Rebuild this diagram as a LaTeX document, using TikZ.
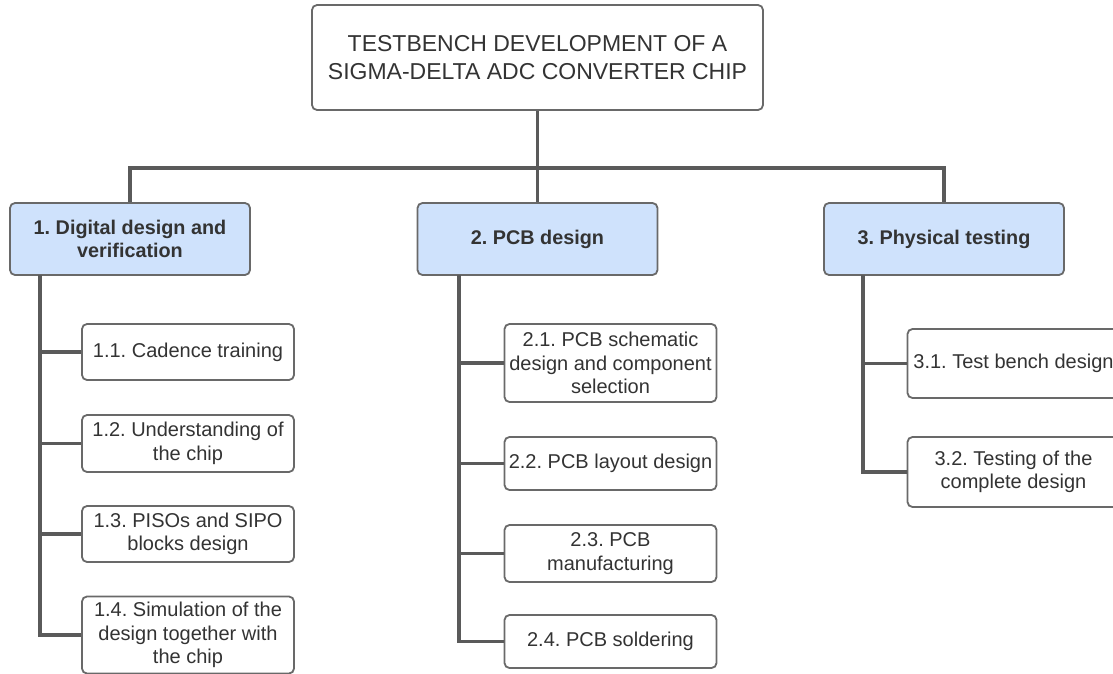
\documentclass[tikz,border=0pt]{standalone}
\usepackage{fontspec}
\setmainfont{Liberation Sans}
\usepackage{tikz}
\definecolor{phaseblue}{RGB}{207,226,252}
\definecolor{linegray}{RGB}{90,90,90}
\definecolor{boxgray}{RGB}{105,105,105}
\definecolor{textgray}{RGB}{51,51,51}
\frenchspacing

\begin{document}
\begin{tikzpicture}[x=1pt,y=-1pt,
		box/.style={draw=boxgray,line width=1.8pt,rounded corners=5pt,fill=white,text=textgray,align=center,inner sep=0pt},
		topbox/.style={box,minimum width=451pt,minimum height=105pt,font=\fontsize{23}{28}\selectfont},
		phasebox/.style={box,fill=phaseblue,minimum width=240pt,minimum height=72pt,font=\fontsize{19.8}{22.5}\selectfont\bfseries},
		taskbox/.style={box,minimum width=212pt,font=\fontsize{20}{23.5}\selectfont},
		link/.style={draw=linegray,line width=3.5pt}]
			\fill [white] (0,0) rectangle (1113,674);
			\useasboundingbox (0,0) rectangle (1113,674);
			\node[topbox] (top) at (537.5,57.5) {TESTBENCH DEVELOPMENT OF A\\SIGMA-DELTA ADC CONVERTER CHIP};
			\node[phasebox] (l1) at (130,239) {1. Digital design and\\verification};
			\node[phasebox] (l2) at (537.5,239) {2. PCB design};
			\node[phasebox] (l3) at (944,239) {3. Physical testing};
			\node[taskbox,minimum height=56pt] (a11) at (188,352) {1.1. Cadence training};
			\node[taskbox,minimum height=57pt] (a12) at (188,443.5) {1.2. Understanding of\\the chip};
			\node[taskbox,minimum height=56pt] (a13) at (188,534) {1.3. PISOs and SIPO\\blocks design};
			\node[taskbox,minimum height=77pt] (a14) at (188,635) {1.4. Simulation of the\\design together with\\the chip};
			\node[taskbox,minimum height=78pt] (a21) at (610.5,363) {2.1. PCB schematic\\design and component\\selection};
			\node[taskbox,minimum height=53pt] (a22) at (610.5,463.5) {2.2. PCB layout design};
			\node[taskbox,minimum height=57pt] (a23) at (610.5,553.5) {2.3. PCB\\manufacturing};
			\node[taskbox,minimum height=53pt] (a24) at (610.5,641.5) {2.4. PCB soldering};
			\node[taskbox,minimum height=69pt] (a31) at (1013.5,363.5) {3.1. Test bench design};
			\node[taskbox,minimum height=70pt] (a32) at (1013.5,472) {3.2. Testing of the\\complete design};
			\coordinate (hub) at (538,168);
			\coordinate (s1) at (40,275);
			\coordinate (s2) at (459,275);
			\coordinate (s3) at (863,275);
			\draw[link] (top.south) -- (l2.north);
			\draw[link] (l1.north) |- (hub) -| (l3.north);
			\foreach \t in {a11,a12,a13,a14}
				\draw[link] (s1) |- (\t.west);
			\foreach \t in {a21,a22,a23,a24}
				\draw[link] (s2) |- (\t.west);
			\foreach \t in {a31,a32}
				\draw[link] (s3) |- (\t.west);
		\end{tikzpicture}
\end{document}
